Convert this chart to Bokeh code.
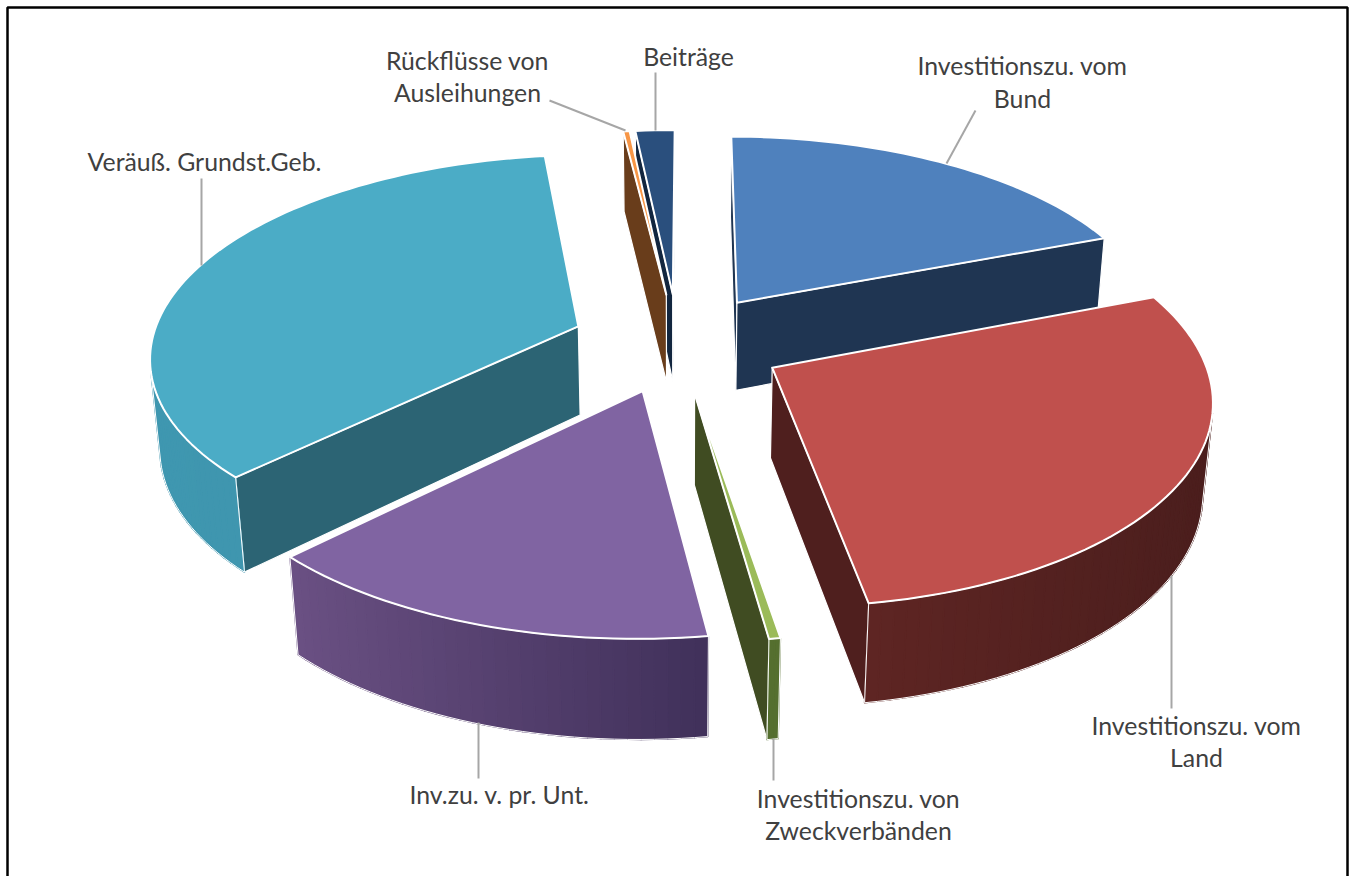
import math
from bokeh.plotting import figure
from bokeh.models import Range1d, ColumnDataSource
from bokeh.core.properties import value
from bokeh.embed import file_html
from bokeh.resources import INLINE

# ---- data (shares in percent, clockwise from the first slice)
categories = ["Investitionszu. vom Bund", "Investitionszu. vom Land", "Investitionszu. von Zweckverbänden",
              "Inv.zu. v. pr. Unt.", "Veräuß. Grundst.Geb.", "Rückflüsse von Ausleihungen", "Beiträge"]
shares = [19.1, 28.25, 0.36, 14.83, 35.44, 0.28, 1.72]
top_colors = ["#4f81bd", "#c0504d", "#9bbb59", "#8064a2", "#4bacc6", "#f79646", "#2a4f7d"]
face_colors = ["#1f3552", "#4f1f1e", "#404c22", "#44345c", "#2c6474", "#693d1b", "#12263f"]
arc_left = ["#1f3552", "#5e2523", "#556f2f", "#6a5083", "#3f97b0", "#693d1b", "#12263f"]
arc_right = ["#1f3552", "#4b1e1d", "#556f2f", "#40305a", "#3d92aa", "#693d1b", "#12263f"]
paint_order = [0, 6, 5, 4, 1, 3, 2]

label_text = ["Rückflüsse von", "Ausleihungen", "Beiträge", "Investitionszu. vom", "Bund",
              "Veräuß. Grundst.Geb.", "Investitionszu. vom", "Land", "Inv.zu. v. pr. Unt.",
              "Investitionszu. von", "Zweckverbänden"]
label_x = [467, 467, 688, 1022, 1022, 204, 1196, 1196, 499, 858, 858]
label_y = [60, 92, 56, 65, 98, 161, 725, 757, 794, 798, 830]
leader_x0 = [549, 655, 975, 201, 1171, 773, 478]
leader_y0 = [100, 72, 110, 178, 708, 780, 778]
leader_x1 = [625, 655, 946, 201, 1171, 773, 478]
leader_y1 = [130, 130, 163, 265, 575, 738, 722]

# ---- view of the tilted disc
START = 0.2
EXPLODE = 0.25
CX, CY, AX, AY, PERSP = 677.5, 342.0, 427.0, 199.0, 0.137
DROP, SHRINK = 91.0, 0.0187
W, H = 1349, 876


def project(px, pt, depth):
    w = 1 - PERSP * pt + SHRINK * depth
    return CX + AX * px / w, CY + (AY * pt + DROP * depth) / w


def mix(c1, c2, f):
    a = [int(c1[i:i + 2], 16) for i in (1, 3, 5)]
    b = [int(c2[i:i + 2], 16) for i in (1, 3, 5)]
    return "#%02x%02x%02x" % tuple(round(u + (v - u) * f) for u, v in zip(a, b))


def area(poly):
    return sum(poly[j][0] * poly[(j + 1) % len(poly)][1] - poly[(j + 1) % len(poly)][0] * poly[j][1]
               for j in range(len(poly)))


total = sum(shares)
starts, ang = [], START
for s in shares:
    starts.append(ang)
    ang += 360 * s / total

xs, ys, fills, lines, widths = [], [], [], [], []


def add(poly, fill, line, width):
    xs.append([q[0] for q in poly])
    ys.append([q[1] for q in poly])
    fills.append(fill)
    lines.append(line)
    widths.append(width)


for i in paint_order:
    a0 = starts[i]
    a1 = a0 + 360 * shares[i] / total
    mid = math.radians((a0 + a1) / 2)
    ox, oy = EXPLODE * math.sin(mid), -EXPLODE * math.cos(mid)
    n = max(2, int((a1 - a0) / 1.5))
    rim = []
    for k in range(n + 1):
        t = math.radians(a0 + (a1 - a0) * k / n)
        rim.append((ox + math.sin(t), oy - math.cos(t)))
    top = [project(x, y, 0) for x, y in rim]
    bot = [project(x, y, 1) for x, y in rim]
    apex_t, apex_b = project(ox, oy, 0), project(ox, oy, 1)
    # radial walls that face the viewer
    wall0 = [apex_t, top[0], bot[0], apex_b]
    wall1 = [apex_t, top[-1], bot[-1], apex_b]
    if area(wall0) < 0:
        add(wall0, face_colors[i], "#ffffff", 1.2)
    if area(wall1) > 0:
        add(wall1, face_colors[i], "#ffffff", 1.2)
    # outer wall, shaded left to right on the screen
    lo = min(q[0] for q in top)
    hi = max(q[0] for q in top)
    seen = [k for k in range(n) if area([top[k], top[k + 1], bot[k + 1], bot[k]]) < 0]
    for k in seen:
        f = ((top[k][0] + top[k + 1][0]) / 2 - lo) / max(hi - lo, 1)
        col = mix(arc_left[i], arc_right[i], f)
        add([top[k], top[k + 1], bot[k + 1], bot[k]], col, col, 1.4)
    if seen:
        k0, k1 = seen[0], seen[-1] + 1
        add(top[k0:k1 + 1] + bot[k0:k1 + 1][::-1], None, "#ffffff", 1.0)
    # upper face
    add([apex_t] + top, top_colors[i], "#ffffff", 2.0)

p = figure(width=W, height=H, x_range=Range1d(0, W), y_range=Range1d(H, 0),
           output_backend="svg", toolbar_location=None, min_border=0)
p.axis.visible = False
p.grid.visible = False
p.outline_line_color = None
p.background_fill_color = "#ffffff"

p.patches("x", "y", fill_color="fill", line_color="line", line_width="w", line_join="round",
          source=ColumnDataSource(dict(x=xs, y=ys, fill=fills, line=lines, w=widths)))
p.segment(leader_x0, leader_y0, leader_x1, leader_y1, line_color="#a6a6a6", line_width=2)
p.text(label_x, label_y, text=label_text, text_font=value("Lato"), text_font_size="24.8px",
       text_color="#404040", text_align="center", text_baseline="middle")
# frame: it runs off the lower edge of the picture
p.line([7, 7, 1347, 1347], [H, 7, 7, H], line_color="#000000", line_width=2.5)

open("out.html", "w").write(file_html(p, INLINE))
